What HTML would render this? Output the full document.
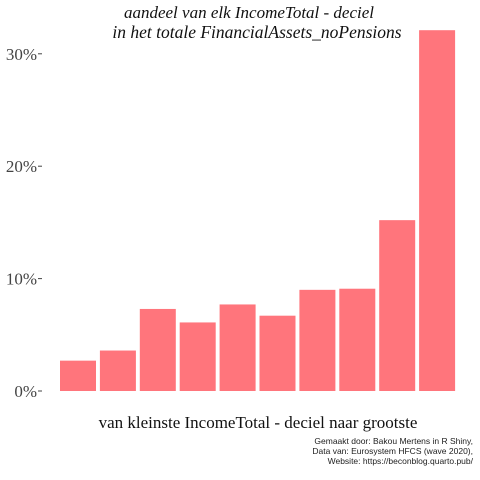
<!DOCTYPE html>
<html><head><meta charset="utf-8"><style>
html,body{margin:0;padding:0;background:#fff;}
svg{display:block;}
</style></head><body>
<svg id="chart" width="480" height="480" xmlns="http://www.w3.org/2000/svg" font-family="Liberation Serif, serif">
<rect width="480" height="480" fill="#fff"/>
<text x="249" y="18" text-anchor="middle" font-size="17" font-style="italic" fill="#111">aandeel van elk IncomeTotal - deciel</text>
<text x="257" y="38" text-anchor="middle" font-size="17.5" font-style="italic" fill="#111">in het totale FinancialAssets_noPensions</text>
<g id="yaxis"></g>
<g id="bars"></g>
<text x="258" y="428" text-anchor="middle" font-size="17" fill="#111">van kleinste IncomeTotal - deciel naar grootste</text>
<g font-family="Liberation Sans, sans-serif" font-size="8.5" fill="#222" text-anchor="end">
<text x="473" y="444">Gemaakt door: Bakou Mertens in R Shiny,</text>
<text x="473" y="454">Data van: Eurosystem HFCS (wave 2020),</text>
<text x="473" y="464">Website: https://beconblog.quarto.pub/</text>
</g>
</svg>
<script>
const categories = ["D1","D2","D3","D4","D5","D6","D7","D8","D9","D10"];
const shares = [2.7, 3.6, 7.3, 6.1, 7.7, 6.7, 9.0, 9.1, 15.2, 32.1];
const yTicks = [0, 10, 20, 30];
const yTickLabels = ["0%","10%","20%","30%"];
const NS="http://www.w3.org/2000/svg";
function y(v){return 391 - v*11.24;}
function xc(i){return 78 + i*39.9;}
const bw=36;
const ya=document.getElementById('yaxis');
yTicks.forEach((t,i)=>{
  const l=document.createElementNS(NS,'line');
  
  
  l.setAttribute('x1',38);l.setAttribute('x2',42);
  l.setAttribute('y1',y(t));l.setAttribute('y2',y(t));
  l.setAttribute('stroke','#444');
  ya.appendChild(l);
  const tx=document.createElementNS(NS,'text');
  
  
  tx.setAttribute('x',37);tx.setAttribute('y',y(t)+6);
  tx.setAttribute('text-anchor','end');tx.setAttribute('font-size','17');
  tx.setAttribute('fill','#444');
  tx.textContent=yTickLabels[i];
  ya.appendChild(tx);
});
const bg=document.getElementById('bars');
categories.forEach((c,i)=>{
  const r=document.createElementNS(NS,'rect');
  
  
  r.setAttribute('x',xc(i)-bw/2);r.setAttribute('width',bw);
  r.setAttribute('y',y(shares[i]));r.setAttribute('height',y(0)-y(shares[i]));
  r.setAttribute('fill','#ff757c');
  bg.appendChild(r);
});
</script>
</body></html>
